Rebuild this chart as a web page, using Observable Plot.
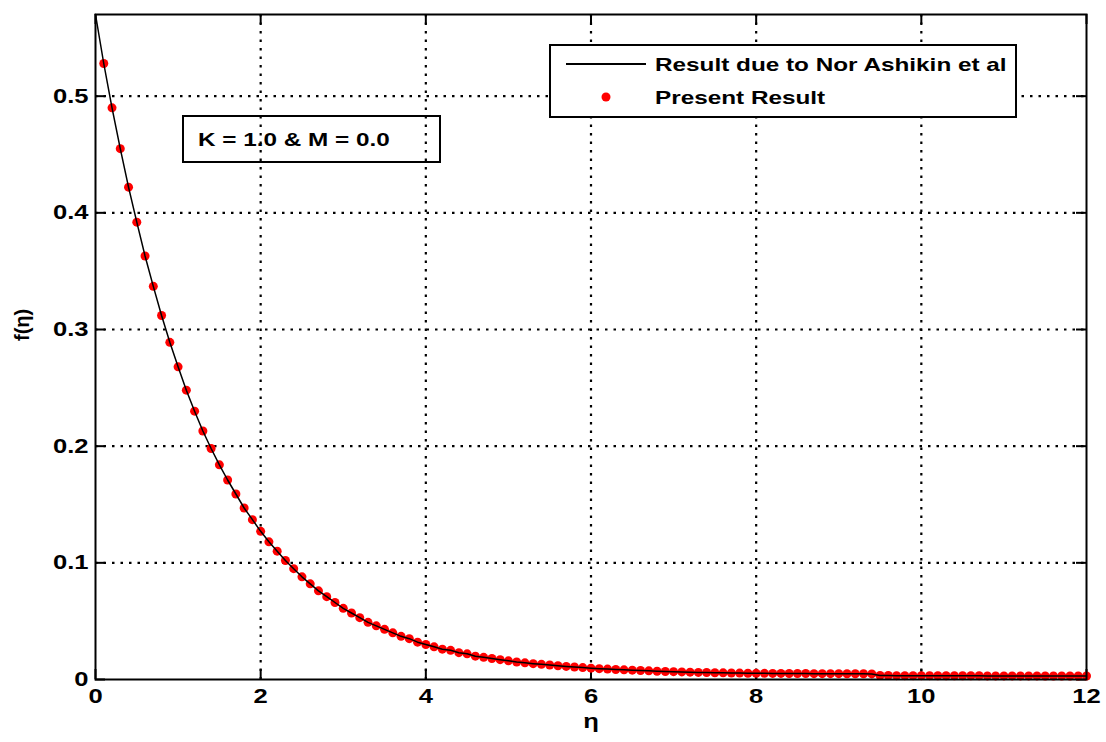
<!DOCTYPE html>
<html>
<head>
<meta charset="utf-8">
<script src="https://cdn.jsdelivr.net/npm/d3@7"></script>
<script src="https://cdn.jsdelivr.net/npm/@observablehq/plot@0.6"></script>
<style>
  html, body { margin: 0; padding: 0; background: #fff; }
  #chart { width: 1106px; height: 742px; }
  svg { font-family: "Liberation Sans", Arial, sans-serif; }
</style>
</head>
<body>
<div id="chart"></div>
<script>
// ---- data ----
const eta = [
  0.0,0.1,0.2,0.3,0.4,0.5,0.6,0.7,0.8,0.9,
  1.0,1.1,1.2,1.3,1.4,1.5,1.6,1.7,1.8,1.9,
  2.0,2.1,2.2,2.3,2.4,2.5,2.6,2.7,2.8,2.9,
  3.0,3.1,3.2,3.3,3.4,3.5,3.6,3.7,3.8,3.9,
  4.0,4.1,4.2,4.3,4.4,4.5,4.6,4.7,4.8,4.9,
  5.0,5.1,5.2,5.3,5.4,5.5,5.6,5.7,5.8,5.9,
  6.0,6.1,6.2,6.3,6.4,6.5,6.6,6.7,6.8,6.9,
  7.0,7.1,7.2,7.3,7.4,7.5,7.6,7.7,7.8,7.9,
  8.0,8.1,8.2,8.3,8.4,8.5,8.6,8.7,8.8,8.9,
  9.0,9.1,9.2,9.3,9.4,9.5,9.6,9.7,9.8,9.9,
  10.0,10.1,10.2,10.3,10.4,10.5,10.6,10.7,10.8,10.9,
  11.0,11.1,11.2,11.3,11.4,11.5,11.6,11.7,11.8,11.9,
  12.0
];
// Result due to Nor Ashikin et al (solid line)
const fNorAshikin = [
  0.570,0.528,0.490,0.455,0.422,0.392,0.363,0.337,0.312,0.289,
  0.268,0.248,0.230,0.213,0.198,0.184,0.171,0.159,0.147,0.137,
  0.127,0.118,0.110,0.102,0.095,0.088,0.082,0.076,0.071,0.066,
  0.061,0.057,0.053,0.049,0.046,0.043,0.040,0.037,0.035,0.032,
  0.030,0.028,0.026,0.025,0.023,0.022,0.020,0.019,0.018,0.017,
  0.016,0.015,0.0143,0.0136,0.0130,0.0124,0.0118,0.0112,0.0107,0.0102,
  0.0097,0.0093,0.0089,0.0086,0.0083,0.0080,0.0077,0.0074,0.0071,0.0069,
  0.0067,0.0065,0.0063,0.0061,0.0060,0.0058,0.0057,0.0056,0.0055,0.0054,
  0.0053,0.0053,0.0052,0.0052,0.0051,0.0051,0.0051,0.0050,0.0050,0.0050,
  0.0050,0.0049,0.0049,0.0049,0.0048,0.0034,0.0034,0.0033,0.0033,0.0033,
  0.0033,0.0033,0.0032,0.0032,0.0032,0.0032,0.0032,0.0032,0.0031,0.0031,
  0.0031,0.0031,0.0031,0.0031,0.0031,0.0030,0.0030,0.0030,0.0030,0.0030,
  0.0030
];
// Present Result (red dots, from eta = 0.1 onward)
const etaPresent = eta.slice(1);
const fPresent = fNorAshikin.slice(1);

const xTicks = [0, 2, 4, 6, 8, 10, 12];
const yTicks = [0, 0.1, 0.2, 0.3, 0.4, 0.5];
const xGrid = [2, 4, 6, 8, 10];
const yGrid = [0.1, 0.2, 0.3, 0.4, 0.5];
const legendLabels = ["Result due to Nor Ashikin et al", "Present Result"];
const annotation = "K = 1.0 & M = 0.0";
const xLabel = "η";
const yLabel = "f(η)";

const lineData = eta.map((e, i) => ({eta: e, f: fNorAshikin[i]}));
const dotData = etaPresent.map((e, i) => ({eta: e, f: fPresent[i]}));

// ---- layout ----
const W = 1106, H = 742;
const mL = 95, mT = 14, mR = 20, mB = 63;
const innerW = W - mL - mR, innerH = H - mT - mB;
const tickLen = 10;
const font = "Liberation Sans, Arial, sans-serif";
const stretch = 1.28; // the reference's lettering is wide

function boxes(index, scales, values, dims) {
  const svg = d3.create("svg:g");
  // annotation box (transparent)
  const a = svg.append("g");
  a.append("rect").attr("x", 183).attr("y", 116).attr("width", 257).attr("height", 46)
    .attr("fill", "none").attr("stroke", "black").attr("stroke-width", 2);
  a.append("text").attr("transform", "translate(198,146)").text(annotation)
    .attr("text-anchor", "start")
    .attr("font-family", font).attr("font-weight", "bold").attr("font-size", 19).attr("fill", "black");
  // legend box (opaque)
  const g = svg.append("g");
  g.append("rect").attr("x", 550).attr("y", 45).attr("width", 466).attr("height", 72)
    .attr("fill", "white").attr("stroke", "black").attr("stroke-width", 2);
  g.append("line").attr("x1", 566).attr("x2", 646).attr("y1", 64).attr("y2", 64)
    .attr("stroke", "black").attr("stroke-width", 2);
  g.append("circle").attr("cx", 606).attr("cy", 97).attr("r", 4.5).attr("fill", "red");
  g.append("text").attr("transform", "translate(655,71)").text(legendLabels[0])
    .attr("text-anchor", "start")
    .attr("font-family", font).attr("font-weight", "bold").attr("font-size", 19).attr("fill", "black");
  g.append("text").attr("transform", "translate(655,104)").text(legendLabels[1])
    .attr("text-anchor", "start")
    .attr("font-family", font).attr("font-weight", "bold").attr("font-size", 19).attr("fill", "black");
  return svg.node();
}

const chart = Plot.plot({
  width: W,
  height: H,
  marginLeft: mL,
  marginTop: mT,
  marginRight: mR,
  marginBottom: mB,
  style: {fontFamily: font, fontSize: "20px", fontWeight: "bold", background: "white", color: "black"},
  x: {domain: [0, 12]},
  y: {domain: [0, 0.57]},
  marks: [
    Plot.ruleX(xGrid, {stroke: "black", strokeWidth: 2.2, strokeDasharray: "2.5,6"}),
    Plot.ruleY(yGrid, {stroke: "black", strokeWidth: 2.2, strokeDasharray: "2.5,6"}),
    Plot.tickX(xTicks, {x: d => d, stroke: "black", strokeWidth: 2, insetTop: innerH - tickLen}),
    Plot.tickX(xTicks, {x: d => d, stroke: "black", strokeWidth: 2, insetBottom: innerH - tickLen}),
    Plot.tickY(yTicks, {y: d => d, stroke: "black", strokeWidth: 2, insetRight: innerW - tickLen}),
    Plot.tickY(yTicks, {y: d => d, stroke: "black", strokeWidth: 2, insetLeft: innerW - tickLen}),
    Plot.axisX({ticks: xTicks, tickSize: 0, tickPadding: 9, label: null, fontSize: 20, fontWeight: "bold"}),
    Plot.axisY({ticks: yTicks, tickSize: 0, tickPadding: 7, label: null, fontSize: 20, fontWeight: "bold", tickFormat: d3.format("")}),
    Plot.text([xLabel], {frameAnchor: "bottom", dy: 48, fontSize: 20, fontWeight: "bold", fill: "black"}),
    Plot.text([yLabel], {frameAnchor: "left", dx: -73, dy: -6, rotate: -90, fontSize: 20, fontWeight: "bold", fill: "black"}),
    boxes,
    Plot.dot(dotData, {x: "eta", y: "f", r: 4.5, fill: "red", stroke: "none"}),
    Plot.line(lineData, {x: "eta", y: "f", stroke: "black", strokeWidth: 1.5}),
    Plot.frame({stroke: "black", strokeWidth: 2})
  ]
});

// widen the lettering to match the reference (scale about each text's anchor)
d3.select(chart).selectAll("text").each(function() {
  const t = this.getAttribute("transform") || "";
  if (t.includes("rotate")) return;
  this.setAttribute("transform", (t ? t + " " : "") + `scale(${stretch},1)`);
});

document.getElementById("chart").appendChild(chart);
</script>
</body>
</html>
